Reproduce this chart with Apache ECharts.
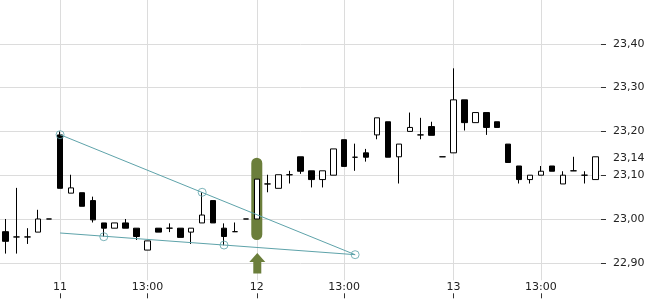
<!DOCTYPE html>
<html>
<head>
<meta charset="utf-8">
<script src="https://cdn.jsdelivr.net/npm/echarts@6/dist/echarts.min.js"></script>
<style>
html,body{margin:0;padding:0;background:#fff;}
#chart{width:650px;height:300px;}
</style>
</head>
<body>
<div id="chart"></div>
<script>
// ---- data ----
const sessionTimes = ['09:00','09:30','10:00','10:30','11:00','11:30','12:00','12:30','13:00','13:30','14:00','14:30','15:00','15:30','16:00','16:30','17:00','17:30'];
const days = [
  { day: '10', times: ['15:30','16:00','16:30','17:00','17:30'] },
  { day: '11', times: sessionTimes },
  { day: '12', times: sessionTimes },
  { day: '13', times: sessionTimes.slice(0, 14) }
];
const categories = [];
days.forEach(d => d.times.forEach(t => categories.push(d.day + ' ' + t)));

const opens  = [22.971,22.959,22.959,22.970,23.000, 23.192,23.059,23.060,23.042,22.991,22.979,22.991,22.979,22.929,22.979,22.979,22.979,22.970,22.991,23.042,22.979,22.971,23.000,
                23.000,23.080,23.070,23.101,23.142,23.110,23.090,23.100,23.181,23.141,23.151,23.192,23.222,23.142,23.200,23.192,23.211,23.142,
                23.151,23.272,23.220,23.243,23.222,23.171,23.121,23.090,23.100,23.121,23.080,23.110,23.100,23.090];
const closes = [22.949,22.959,22.959,23.000,23.000, 23.070,23.071,23.029,22.998,22.979,22.991,22.979,22.960,22.950,22.970,22.979,22.958,22.979,23.009,22.991,22.960,22.971,23.000,
                23.091,23.080,23.101,23.101,23.109,23.090,23.110,23.160,23.120,23.141,23.141,23.231,23.141,23.171,23.209,23.192,23.191,23.142,
                23.272,23.220,23.243,23.209,23.209,23.129,23.090,23.100,23.109,23.109,23.100,23.110,23.100,23.142];
const lows   = [22.921,22.921,22.943,22.970,23.000, 23.070,23.059,23.029,22.992,22.960,22.979,22.979,22.952,22.929,22.970,22.970,22.958,22.943,22.991,22.991,22.940,22.971,23.000,
                23.000,23.061,23.070,23.081,23.103,23.072,23.072,23.100,23.120,23.110,23.131,23.182,23.141,23.081,23.200,23.182,23.191,23.142,
                23.151,23.202,23.220,23.192,23.209,23.129,23.081,23.081,23.100,23.109,23.080,23.110,23.081,23.090];
const highs  = [23.000,23.071,22.979,23.021,23.000, 23.200,23.101,23.060,23.051,22.991,22.991,23.000,22.979,22.950,22.979,22.990,22.979,22.979,23.061,23.042,22.990,22.992,23.000,
                23.091,23.101,23.101,23.110,23.142,23.110,23.110,23.160,23.181,23.172,23.160,23.231,23.222,23.171,23.243,23.231,23.222,23.142,
                23.344,23.272,23.243,23.243,23.222,23.171,23.121,23.100,23.121,23.121,23.109,23.142,23.109,23.142];

const yTickValues  = [22.9, 23.0, 23.1, 23.2, 23.3, 23.4];
const yLabelValues = [22.9, 23.0, 23.1, 23.14, 23.2, 23.3, 23.4];

const trendUpper = [[5, 23.1925], [32, 22.9185]];
const trendLower = [[5, 22.968], [32, 22.9185]];
const touchPoints = [[5, 23.1925], [18, 23.061], [32, 22.9185], [9, 22.9595], [20, 22.9405]];
const highlight = [[23, 23.14, 22.952]];
const arrowMark = [[23, 22.9224]];

// ---- chart ----
const teal = '#5ea3aa';
const olive = '#6b7e3b';
const isLabelled = (i, v) => /(09:00|13:00)$/.test(v);
const font = 'DejaVu Sans';

const chart = echarts.init(document.getElementById('chart'), null, { renderer: 'canvas' });
chart.setOption({
  animation: false,
  backgroundColor: '#fff',
  grid: { left: 0, right: 49, top: 0, bottom: 19.7 },
  xAxis: {
    type: 'category',
    data: categories,
    boundaryGap: true,
    offset: 18,
    axisLine: { show: false },
    axisTick: { show: true, inside: true, length: 5, alignWithLabel: true, interval: isLabelled, lineStyle: { color: '#333' } },
    axisLabel: {
      inside: true, margin: 6, interval: isLabelled,
      fontSize: 11, fontFamily: font, color: '#222',
      formatter: v => v.endsWith('09:00') ? v.split(' ')[0] : v.split(' ')[1]
    },
    splitLine: { show: true, interval: isLabelled, alignWithLabel: true, lineStyle: { color: '#dcdcdc', width: 1 } }
  },
  yAxis: {
    type: 'value',
    position: 'right',
    min: 22.86, max: 23.5,
    scale: true,
    axisLine: { show: false },
    axisTick: { show: true, length: 5, customValues: yTickValues, lineStyle: { color: '#333' } },
    axisLabel: {
      customValues: yLabelValues, margin: 12, fontSize: 11, fontFamily: font, color: '#222',
      formatter: v => v.toFixed(2).replace('.', ',')
    },
    splitLine: { show: true, lineStyle: { color: '#dcdcdc', width: 1 } }
  },
  series: [
    {
      type: 'custom',
      z: 1,
      clip: false,
      silent: true,
      data: highlight,
      renderItem: (params, api) => {
        const top = api.coord([api.value(0), api.value(1)]);
        const bot = api.coord([api.value(0), api.value(2)]);
        return {
          type: 'rect',
          shape: { x: top[0] - 5.5, y: top[1], width: 11, height: bot[1] - top[1], r: 5.5 },
          style: { fill: olive }
        };
      }
    },
    {
      type: 'candlestick',
      z: 2,
      barWidth: 6,
      data: opens.map((o, i) => [o, closes[i], lows[i], highs[i]]),
      itemStyle: { color: '#fff', color0: '#000', borderColor: '#000', borderColor0: '#000', borderColorDoji: '#000', borderWidth: 1 }
    },
    {
      type: 'line', z: 3, data: trendUpper, symbol: 'none', silent: true,
      lineStyle: { color: teal, width: 1 }
    },
    {
      type: 'line', z: 3, data: trendLower, symbol: 'none', silent: true,
      lineStyle: { color: teal, width: 1 }
    },
    {
      type: 'scatter', z: 4, data: touchPoints, symbol: 'circle', symbolSize: 8, silent: true,
      itemStyle: { color: 'rgba(255,255,255,0)', borderColor: teal, borderWidth: 1 }
    },
    {
      type: 'custom',
      z: 5,
      clip: false,
      silent: true,
      data: arrowMark,
      renderItem: (params, api) => {
        const p = api.coord([api.value(0), api.value(1)]);
        const x = p[0] + 0.5, y = p[1];
        return {
          type: 'polygon',
          shape: { points: [
            [x, y], [x + 8, y + 9], [x + 4, y + 9], [x + 4, y + 20.5],
            [x - 4, y + 20.5], [x - 4, y + 9], [x - 8, y + 9]
          ] },
          style: { fill: olive }
        };
      }
    }
  ]
});
</script>
</body>
</html>
